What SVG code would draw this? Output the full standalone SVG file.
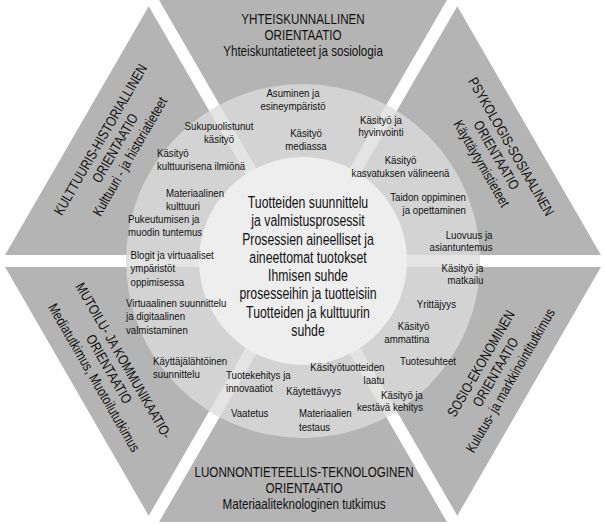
<svg xmlns="http://www.w3.org/2000/svg" width="605" height="524" viewBox="0 0 605 524">
<defs>
<style>
text{font-family:'Liberation Sans',Arial,sans-serif;fill:#111;}
.t{font-size:14.2px;text-anchor:middle;}
.c{font-size:16.5px;text-anchor:middle;}
.s{font-size:11.8px;}
.m{text-anchor:middle;}
.e{text-anchor:end;}
.sec{fill:#b4b4b4;}
.gap{stroke:#fff;stroke-width:12;fill:none;}
.gap2{stroke:#e4e4e4;stroke-width:12;fill:none;}
</style>
<clipPath id="ringclip"><circle cx="303" cy="261" r="177"/></clipPath>
</defs>
<rect width="605" height="524" fill="#fff"/>
<g id="sector-top"><polygon class="sec" points="303,261 152.3,0 453.7,0"/></g>
<g id="sector-top-right"><polygon class="sec" points="303,261 453.7,0 604.4,261"/></g>
<g id="sector-bottom-right"><polygon class="sec" points="303,261 604.4,261 453.7,522"/></g>
<g id="sector-bottom"><polygon class="sec" points="303,261 453.7,522 152.3,522"/></g>
<g id="sector-bottom-left"><polygon class="sec" points="303,261 152.3,522 1.6,261"/></g>
<g id="sector-top-left"><polygon class="sec" points="303,261 1.6,261 152.3,0"/></g>
<g id="connectors">
<path class="gap" d="M303,261 L-20,261 M303,261 L625,261 M303,261 L140.5,-20 M303,261 L465.5,-20 M303,261 L140.5,542 M303,261 L465.5,542"/>
</g>
<g id="ring">
<circle cx="303" cy="261" r="177" fill="#d3d3d3"/>
<path class="gap2" clip-path="url(#ringclip)" d="M303,261 L-20,261 M303,261 L625,261 M303,261 L140.5,-20 M303,261 L465.5,-20 M303,261 L140.5,542 M303,261 L465.5,542"/>
</g>
<g id="core">
<circle cx="303" cy="261" r="104" fill="#eeeeee"/>
<g transform="translate(308,208) scale(.745,1)">
<text class="c" y="0">Tuotteiden suunnittelu</text>
<text class="c" y="18.3">ja valmistusprosessit</text>
<text class="c" y="36.6">Prosessien aineelliset ja</text>
<text class="c" y="54.9">aineettomat tuotokset</text>
<text class="c" y="73.2">Ihmisen suhde</text>
<text class="c" y="91.5">prosesseihin ja tuotteisiin</text>
<text class="c" y="109.8">Tuotteiden ja kulttuurin</text>
<text class="c" y="128.1">suhde</text>
</g>
</g>
<g id="title-top" transform="translate(303,24) scale(.82,1)">
<text class="t" y="0">YHTEISKUNNALLINEN</text>
<text class="t" y="16.5">ORIENTAATIO</text>
<text class="t" y="32.5">Yhteiskuntatieteet ja sosiologia</text>
</g>
<g id="title-bottom" transform="translate(304,477) scale(.82,1)">
<text class="t" y="0">LUONNONTIETEELLIS-TEKNOLOGINEN</text>
<text class="t" y="16">ORIENTAATIO</text>
<text class="t" y="32">Materiaaliteknologinen tutkimus</text>
</g>
<g id="title-top-left" transform="translate(115,148) rotate(-60) scale(.82,1)">
<text class="t" y="-12">KULTTUURIS-HISTORIALLINEN</text>
<text class="t" y="5">ORIENTAATIO</text>
<text class="t" y="22">Kulttuuri - ja historiatieteet</text>
</g>
<g id="title-top-right" transform="translate(496.5,155) rotate(60) scale(.82,1)">
<text class="t" y="-12">PSYKOLOGIS-SOSIAALINEN</text>
<text class="t" y="5">ORIENTAATIO</text>
<text class="t" y="22">Käyttäytymistieteet</text>
</g>
<g id="title-bottom-left" transform="translate(109,369) rotate(60) scale(.82,1)">
<text class="t" y="-12">MUTOILU- JA KOMMUNIKAATIO-</text>
<text class="t" y="5">ORIENTAATIO</text>
<text class="t" y="22">Mediatutkimus, Muotoilututkimus</text>
</g>
<g id="title-bottom-right" transform="translate(495.5,372) rotate(-60) scale(.82,1)">
<text class="t" y="-12">SOSIO-EKONOMINEN</text>
<text class="t" y="5">ORIENTAATIO</text>
<text class="t" y="22">Kulutus- ja markkinointitutkimus</text>
</g>
<g id="labels">
<g id="l-asuminen" transform="translate(293,97) scale(.82,1)"><text class="s m">Asuminen ja</text><text class="s m" y="13">esineympäristö</text></g>
<g id="l-mediassa" transform="translate(306,137) scale(.82,1)"><text class="s m">Käsityö</text><text class="s m" y="13">mediassa</text></g>
<g id="l-sukupuoli" transform="translate(219,130) scale(.82,1)"><text class="s m">Sukupuolistunut</text><text class="s m" y="13">käsityö</text></g>
<g id="l-ilmio" transform="translate(157,157) scale(.82,1)"><text class="s">Käsityö</text><text class="s" y="13.5">kulttuurisena ilmiönä</text></g>
<g id="l-materiaalinen" transform="translate(166,197) scale(.82,1)"><text class="s">Materiaalinen</text><text class="s" y="13">kulttuuri</text></g>
<g id="l-pukeutuminen" transform="translate(128,222.5) scale(.82,1)"><text class="s">Pukeutumisen ja</text><text class="s" y="13.5">muodin tuntemus</text></g>
<g id="l-blogit" transform="translate(130.5,259) scale(.82,1)"><text class="s">Blogit ja virtuaaliset</text><text class="s" y="13.5">ympäristöt</text><text class="s" y="27">oppimisessa</text></g>
<g id="l-virtuaalinen" transform="translate(126,306.5) scale(.82,1)"><text class="s">Virtuaalinen suunnittelu</text><text class="s" y="14">ja digitaalinen</text><text class="s" y="27.5">valmistaminen</text></g>
<g id="l-kayttaja" transform="translate(153,365) scale(.82,1)"><text class="s">Käyttäjälähtöinen</text><text class="s" y="13.5">suunnittelu</text></g>
<g id="l-tuotekehitys" transform="translate(226,379) scale(.82,1)"><text class="s">Tuotekehitys ja</text><text class="s" y="13">innovaatiot</text></g>
<g id="l-vaatetus" transform="translate(231,416.5) scale(.82,1)"><text class="s">Vaatetus</text></g>
<g id="l-kaytettavyys" transform="translate(341,395) scale(.82,1)"><text class="s e">Käytettävyys</text></g>
<g id="l-laatu" transform="translate(384.5,371) scale(.82,1)"><text class="s e">Käsityötuotteiden</text><text class="s e" y="13.5">laatu</text></g>
<g id="l-materiaalien" transform="translate(299,416.5) scale(.82,1)"><text class="s">Materiaalien</text><text class="s" y="14.5">testaus</text></g>
<g id="l-kestava" transform="translate(423,398.5) scale(.82,1)"><text class="s e">Käsityö ja</text><text class="s e" y="12.5">kestävä kehitys</text></g>
<g id="l-tuotesuhteet" transform="translate(456,365) scale(.82,1)"><text class="s e">Tuotesuhteet</text></g>
<g id="l-ammattina" transform="translate(429.5,329.5) scale(.82,1)"><text class="s e">Käsityö</text><text class="s e" y="13.5">ammattina</text></g>
<g id="l-yrittajyys" transform="translate(456,307.5) scale(.82,1)"><text class="s e">Yrittäjyys</text></g>
<g id="l-matkailu" transform="translate(483.5,271.5) scale(.82,1)"><text class="s e">Käsityö ja</text><text class="s e" y="12.5">matkailu</text></g>
<g id="l-luovuus" transform="translate(492.5,238.5) scale(.82,1)"><text class="s e">Luovuus ja</text><text class="s e" y="12.5">asiantuntemus</text></g>
<g id="l-taidon" transform="translate(466,200.5) scale(.82,1)"><text class="s e">Taidon oppiminen</text><text class="s e" y="13.5">ja opettaminen</text></g>
<g id="l-kasvatus" transform="translate(400.5,164) scale(.82,1)"><text class="s m">Käsityö</text><text class="s m" y="13.5">kasvatuksen välineenä</text></g>
<g id="l-hyvinvointi" transform="translate(381,123.5) scale(.82,1)"><text class="s m">Käsityö ja</text><text class="s m" y="12.5">hyvinvointi</text></g>
</g>
</svg>
